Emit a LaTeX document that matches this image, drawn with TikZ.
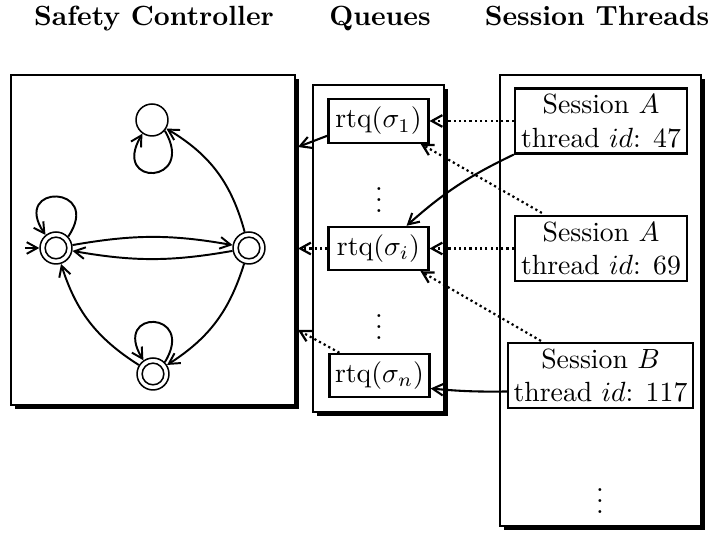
\documentclass[tikz,border=0pt]{standalone}
\usetikzlibrary{arrows.meta,shadows,calc}
\begin{document}
\begin{tikzpicture}[x=0.36pt,y=0.36pt,
  >={Straight Barb[length=3.8pt,width=4.2pt]},
  title/.style={font=\bfseries, anchor=base},
  panel/.style={draw, fill=white, line width=0.75pt, rectangle, inner sep=0pt,
    drop shadow={shadow xshift=1.4pt, shadow yshift=-1.4pt, fill=black, opacity=1}},
  qbox/.style={draw, line width=0.75pt, fill=white, minimum width=36pt, minimum height=15.6pt, inner sep=1pt},
  sbox/.style={draw, line width=0.75pt, fill=white, minimum width=62pt, minimum height=23.4pt, inner sep=1pt, align=center},
  state/.style={draw, circle, line width=0.55pt, minimum size=11.5pt, inner sep=0pt},
  accept/.style={state, path picture={\draw[line width=0.55pt] (path picture bounding box.center) circle (3.9pt);}},
  dots/.style={inner sep=0pt},
  edge/.style={->, line width=0.7pt},
  dotarrow/.style={->, line width=0.8pt, dash pattern=on 0.8pt off 1.1pt},
  solidarrow/.style={->, line width=0.75pt},
]
\useasboundingbox (0,0) rectangle (709,534);

% titles
\node[title] (tsc) at (154,508) {Safety Controller};
\node[title] (tq) at (380,508) {Queues};
\node[title] (tst) at (597,508) {Session Threads};

% panels
\node[panel, minimum width=102.2pt, minimum height=118.8pt] (sc) at (153,294) {};
\node[panel, minimum width=47.2pt, minimum height=117.7pt] (qq) at (378.5,285.5) {};
\node[panel, minimum width=72.4pt, minimum height=162.4pt] (st) at (600.5,233.5) {};

% automaton
\node[state] (T) at (152,414) {};
\node[accept] (L) at (56,286) {};
\node[accept] (R) at (249,286) {};
\node[accept] (B) at (153,160) {};
\coordinate (init) at (25,286);

\draw[edge] (init) -- (L.west);
\draw[edge] (T.-40) .. controls +(32,-54) and +(-32,-54) .. (T.-125);
\draw[edge] (L.43) .. controls +(35,52) and +(-35,52) .. (L.129);
\draw[edge] (B.45) .. controls +(32,52) and +(-32,52) .. (B.125);
\draw[edge] (L) to[bend left=10] (R);
\draw[edge] (R) to[bend left=10] (L);
\draw[edge] (R) to[bend right=22] (T);
\draw[edge] (R) to[bend left=20] (B);
\draw[edge] (B) to[bend left=20] (L);

% queues
\node[qbox] (q1) at (378.5,413) {rtq$(\sigma_1)$};
\node[qbox] (qi) at (378.5,285.5) {rtq$(\sigma_i)$};
\node[qbox] (qn) at (379.5,158.5) {rtq$(\sigma_n)$};
\node[dots] (qd1) at (379,342) {$\vdots$};
\node[dots] (qd2) at (379,215) {$\vdots$};

% sessions
\node[sbox] (s1) at (601,413) {Session $A$\\thread $id$: 47};
\node[sbox] (s2) at (601,285.5) {Session $A$\\thread $id$: 69};
\node[sbox, minimum width=66.6pt] (s3) at (600.5,158.5) {Session $B$\\thread $id$: 117};
\node[dots] (sd) at (600,41) {$\vdots$};

% queue -> controller
\coordinate (c1) at (298,387);
\coordinate (c2) at (298,285.5);
\coordinate (c3) at (298,204);
\draw[solidarrow] ($(q1.south west)+(0,8)$) -- (c1);
\draw[dotarrow] (qi.west) -- (c2);
\draw[dotarrow] ($(qn.north west)+(11,0)$) -- (c3);

% sessions -> queues
\draw[dotarrow] (s1.west) -- (q1.east);
\draw[solidarrow] (s1.south west) to[bend right=8] ($(qi.north east)+(-23,0)$);
\draw[dotarrow] ($(s2.north west)+(28,2)$) -- ($(q1.south east)+(-9,0)$);
\draw[dotarrow] (s2.west) -- (qi.east);
\draw[dotarrow] ($(s3.north west)+(34,1)$) -- ($(qi.south east)+(-9,0)$);
\draw[solidarrow] ($(s3.west)+(0,-16)$) to[bend left=3] ($(qn.east)+(0,-13)$);
\end{tikzpicture}
\end{document}
